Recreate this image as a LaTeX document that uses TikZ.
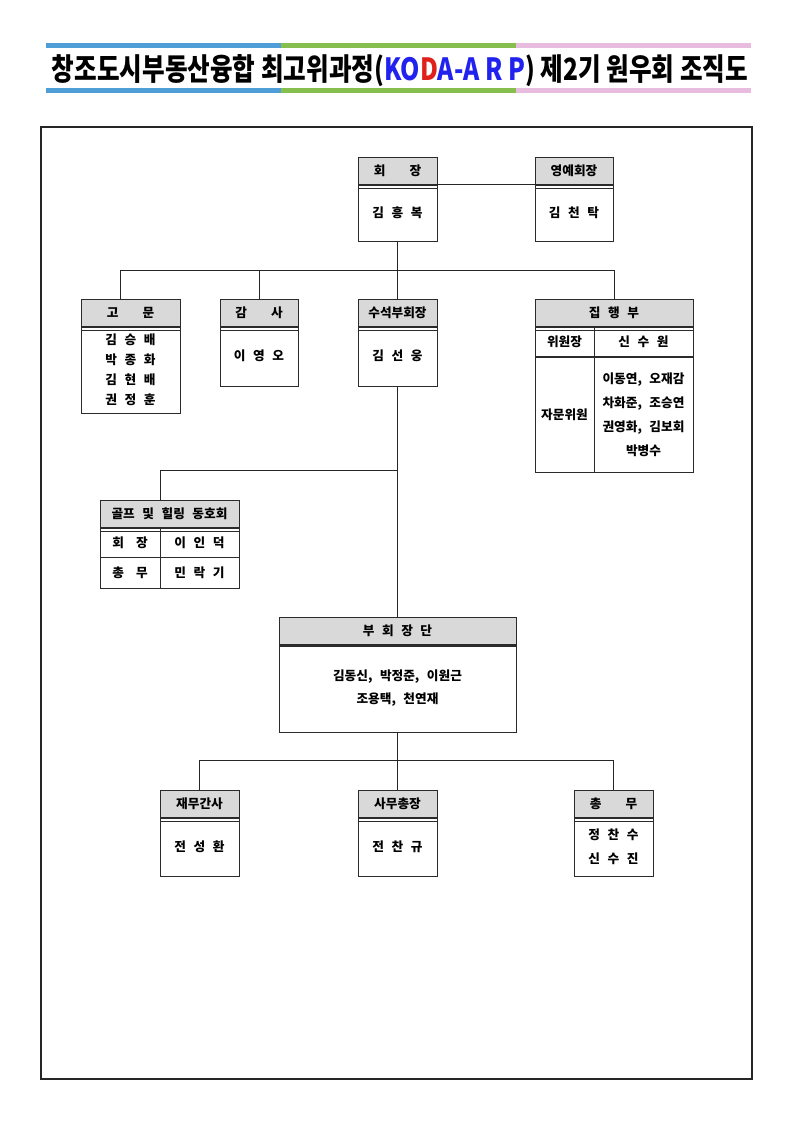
\documentclass[tikz,border=0pt]{standalone}
\usepackage{fontspec}
\setmainfont{Noto Sans CJK KR}[WordSpace=2.6]
\newfontfamily\titlefont{Noto Sans CJK KR}
\usetikzlibrary{positioning}
\definecolor{barblue}{HTML}{4F9ED8}
\definecolor{bargreen}{HTML}{86BF4E}
\definecolor{barpink}{HTML}{E8BCDF}
\definecolor{kblue}{HTML}{2222EE}
\definecolor{kred}{HTML}{E0201B}
\definecolor{hdgray}{HTML}{D9D9D9}
\definecolor{boxln}{HTML}{2B2B2B}

\begin{document}
\begin{tikzpicture}[x=0.75pt,y=-0.75pt,
    hd/.style={rectangle,draw=boxln,fill=hdgray,line width=0.7pt,inner sep=0pt,
      outer sep=0pt,minimum height=20.25pt,font=\bfseries\fontsize{9.5}{11}\selectfont},
    bd/.style={rectangle,draw=boxln,line width=0.7pt,inner sep=0pt,outer sep=0pt,
      align=center,font=\bfseries\fontsize{9.5}{18}\selectfont},
    conn/.style={draw=black!85,line width=0.6pt},
    dbl/.style={boxln,line width=1.4pt},
    sgl/.style={boxln,line width=0.5pt}]
\useasboundingbox (0,0) rectangle (793,1123);
\fill[white] (0,0) rectangle (793,1123);

\fill[barblue] (46,43) rectangle (281,48);
\fill[bargreen] (281,43) rectangle (516,48);
\fill[barpink] (516,43) rectangle (751,48);
\fill[barblue] (46,88) rectangle (281,93);
\fill[bargreen] (281,88) rectangle (516,93);
\fill[barpink] (516,88) rectangle (751,93);
\node[anchor=base,inner sep=0pt] (title) at (400,81) {\resizebox{522pt}{19.5pt}{\titlefont\bfseries
  창조도시부동산융합 최고위과정(\textcolor{kblue}{KO}\textcolor{kred}{D}\textcolor{kblue}{A-A R P}) 제2기 원우회 조직도}};
\draw[line width=1.1pt,black!85] (41,127) rectangle (752,1079);

\node[hd,minimum width=59.25pt,anchor=north west] (chair) at (358,157) {회\hspace{1.9em}장};
\node[bd,minimum width=59.25pt,minimum height=42.75pt,below=0pt of chair] (chairB) {김 흥 복};
\node[hd,minimum width=58.5pt,anchor=north west] (honor) at (535,157) {영예회장};
\node[bd,minimum width=58.5pt,minimum height=42.75pt,below=0pt of honor] (honorB) {김 천 탁};

\node[hd,minimum width=74.25pt,anchor=north west] (advisor) at (81,299) {고\hspace{1.9em}문};
\node[bd,minimum width=74.25pt,minimum height=65.25pt,below=0pt of advisor,
  font=\bfseries\fontsize{9.5}{15}\selectfont] (advisorB) {김 승 배\\박 종 화\\김 현 배\\권 정 훈};
\node[hd,minimum width=58.5pt,anchor=north west] (auditor) at (220,299) {감\hspace{1.9em}사};
\node[bd,minimum width=58.5pt,minimum height=45pt,below=0pt of auditor] (auditorB) {이 영 오};
\node[hd,minimum width=59.25pt,anchor=north west] (senior) at (358,299) {수석부회장};
\node[bd,minimum width=59.25pt,minimum height=45pt,below=0pt of senior] (seniorB) {김 선 웅};

\node[hd,minimum width=118.5pt,anchor=north west] (exec) at (535,299) {집 행 부};
\node[bd,minimum width=44.25pt,minimum height=23.25pt,anchor=north west] (execR1a) at (exec.south west) {위원장};
\node[bd,minimum width=74.25pt,minimum height=23.25pt,right=0pt of execR1a] (execR1b) {신 수 원};
\node[bd,minimum width=44.25pt,minimum height=86.25pt,below=0pt of execR1a] (execR2a) {자문위원};
\node[bd,minimum width=74.25pt,minimum height=86.25pt,below=0pt of execR1b] (execR2b)
  {이동연, 오재감\\차화준, 조승연\\권영화, 김보회\\박병수};
\draw[boxln,line width=1pt] (execR1a.south west) -- (execR1b.south east);

\node[hd,minimum width=104.25pt,anchor=north west] (golf) at (100,500) {골프 및 힐링 동호회};
\node[bd,minimum width=45pt,minimum height=22.9pt,anchor=north west] (golfR1a) at (golf.south west) {회\hspace{0.95em}장};
\node[bd,minimum width=59.25pt,minimum height=22.9pt,right=0pt of golfR1a] (golfR1b) {이 인 덕};
\node[bd,minimum width=45pt,minimum height=22.9pt,below=0pt of golfR1a] (golfR2a) {총\hspace{0.95em}무};
\node[bd,minimum width=59.25pt,minimum height=22.9pt,below=0pt of golfR1b] (golfR2b) {민 락 기};

\node[hd,minimum width=177.75pt,anchor=north west] (vice) at (279,617) {부 회 장 단};
\node[bd,minimum width=177.75pt,minimum height=66pt,below=0pt of vice,
  font=\bfseries\fontsize{9.5}{17}\selectfont] (viceB) {김동신, 박정준, 이원근\\조용택, 천연재};
\draw[boxln,line width=2.2pt] ([yshift=-1.1pt]vice.south west) -- ([yshift=-1.1pt]vice.south east);

\node[hd,minimum width=59.25pt,anchor=north west] (finance) at (160,790) {재무간사};
\node[bd,minimum width=59.25pt,minimum height=44.25pt,below=0pt of finance] (financeB) {전 성 환};
\node[hd,minimum width=59.25pt,anchor=north west] (secgen) at (358,790) {사무총장};
\node[bd,minimum width=59.25pt,minimum height=44.25pt,below=0pt of secgen] (secgenB) {전 찬 규};
\node[hd,minimum width=59.25pt,anchor=north west] (general) at (574,790) {총\hspace{1.9em}무};
\node[bd,minimum width=59.25pt,minimum height=44.25pt,below=0pt of general] (generalB) {정 찬 수\\신 수 진};

\foreach \h in {chair,honor,advisor,auditor,senior,exec,golf,finance,secgen,general} {
  \draw[dbl] ([yshift=-0.7pt]\h.south west) -- ([yshift=-0.7pt]\h.south east);
  \draw[sgl] ([yshift=-3pt]\h.south west) -- ([yshift=-3pt]\h.south east);
}

\coordinate (lvlA) at (0,270);
\coordinate (lvlB) at (0,470);
\coordinate (lvlC) at (0,760);
\draw[conn] (chair.south east) -- (honor.south west);
\draw[conn] (chairB.south) -- (senior.north);
\draw[conn] ([xshift=-7.9pt]advisor.north) |- (exec.north |- lvlA) -- (exec.north);
\draw[conn] (auditor.north) -- (auditor.north |- lvlA);
\draw[conn] (seniorB.south) -- (vice.north);
\draw[conn] (golf.north -| golfR1a.east) |- (seniorB.south |- lvlB);
\draw[conn] (viceB.south) -- (secgen.north);
\draw[conn] (finance.north) |- (general.north |- lvlC) -- (general.north);
\end{tikzpicture}
\end{document}
